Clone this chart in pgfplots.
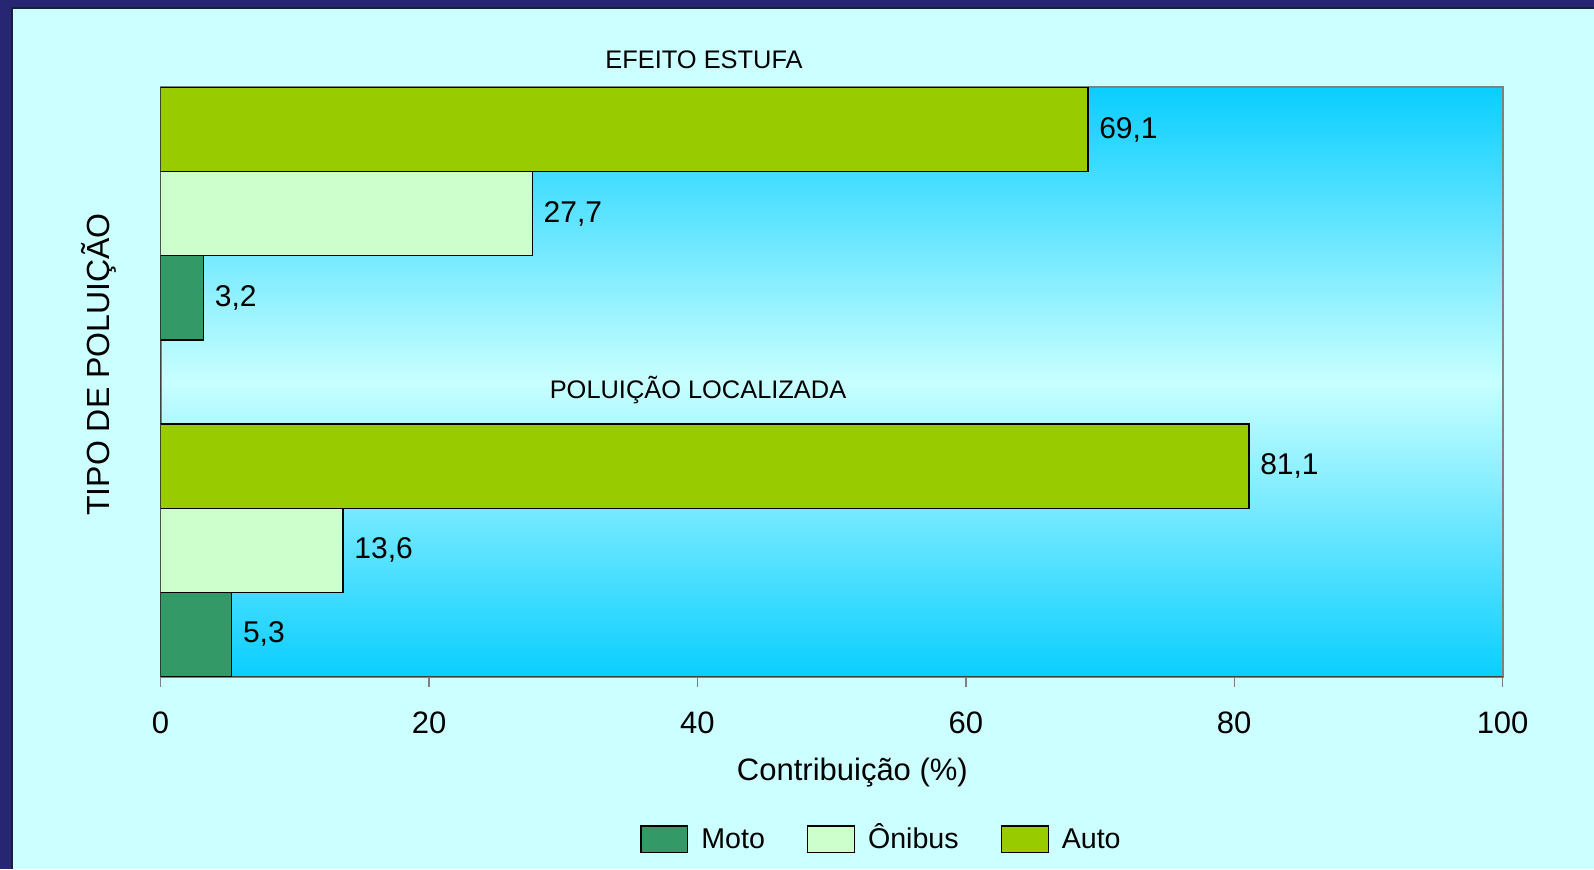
\documentclass[border=0pt]{standalone}
\usepackage{fontspec}
\setmainfont{Liberation Sans}
\usepackage{pgfplots}
\pgfplotsset{compat=1.18}
\definecolor{navy}{HTML}{262673}
\definecolor{navydark}{HTML}{1A1F40}
\definecolor{bgc}{HTML}{CCFFFF}
\definecolor{cyanA}{HTML}{0ACEFF}
\definecolor{lightC}{HTML}{C8FFFF}
\definecolor{autoc}{HTML}{99CC00}
\definecolor{onibusc}{HTML}{CCFFCC}
\definecolor{motoc}{HTML}{339966}
\definecolor{axisdark}{HTML}{404040}
\definecolor{framegray}{HTML}{808080}
\pgfdeclareverticalshading{bgshade}{100bp}{color(0bp)=(cyanA); color(25bp)=(cyanA); color(50bp)=(lightC); color(75bp)=(cyanA); color(100bp)=(cyanA)}

\pgfplotstableread{
val pos
3.2 4.5
5.3 0.5
}\moto
\pgfplotstableread{
val pos
27.7 5.5
13.6 1.5
}\onibus
\pgfplotstableread{
val pos
69.1 6.5
81.1 2.5
}\auto

\begin{document}
\begin{tikzpicture}
\useasboundingbox (0,0) rectangle (797pt,434.5pt);
\fill[bgc] (0,0) rectangle (797pt,434.5pt);
\fill[navy] (0,0) rectangle (5.5pt,434.5pt);
\fill[navy] (0,431pt) rectangle (797pt,434.5pt);
\draw[navydark, line width=0.8pt] (5.9pt,0) -- (5.9pt,430.6pt) -- (797pt,430.6pt);
\begin{axis}[
  at={(80.3pt,96.25pt)}, anchor=south west,
  scale only axis, width=671pt, height=294.55pt,
  xmin=0, xmax=100, ymin=0, ymax=7,
  xbar, bar shift=0pt, bar width=1,
  axis x line*=bottom, axis y line*=left,
  x axis line style={-, draw=axisdark, line width=0.7pt},
  y axis line style={-, draw=axisdark, line width=0.7pt},
  axis background/.style={shading=bgshade, draw=framegray, line width=1pt},
  xtick={0,20,40,60,80,100}, ytick=\empty,
  tick align=outside, major tick length=5pt,
  x tick style={draw=framegray, line width=0.7pt},
  /pgf/number format/assume math mode=true,
  xticklabel style={font=\fontsize{15.5}{18}\selectfont, yshift=-9pt},
  point meta=x,
  nodes near coords={\pgfmathprintnumber[fixed,fixed zerofill,precision=1,use comma]{\pgfplotspointmeta}},
  every node near coord/.append style={anchor=west, xshift=2pt, font=\fontsize{15}{18}\selectfont, text=black},
  legend style={at={(0.5379,-0.276)}, anchor=center, draw=none, fill=none,
    legend columns=3, font=\fontsize{14.3}{17}\selectfont,
    nodes={text height=10.5pt, text depth=1pt},
    /tikz/every even column/.append style={column sep=19pt}},
  mybar/.style={fill=#1, draw=black, line width=0.65pt,
    legend image code/.code={\draw[fill=#1, draw=black, line width=0.65pt] (0pt,-6.6pt) rectangle (23.4pt,6.6pt); \path (27.9pt,0pt);}},
]
\addplot[mybar=motoc] table[x=val, y=pos] {\moto};
\addlegendentry{Moto}
\addplot[mybar=onibusc] table[x=val, y=pos] {\onibus};
\addlegendentry{Ônibus}
\addplot[mybar=autoc] table[x=val, y=pos] {\auto};
\addlegendentry{Auto}
\end{axis}
\node[anchor=base, font=\fontsize{12.7}{15}\selectfont] at (352pt,400.35pt) {EFEITO ESTUFA};
\node[anchor=base, font=\fontsize{12.7}{15}\selectfont] at (349pt,235.5pt) {POLUIÇÃO LOCALIZADA};
\node[anchor=base, font=\fontsize{15.5}{18}\selectfont] at (426.2pt,44.5pt) {Contribuição (\%)};
\node[anchor=base, rotate=90, font=\fontsize{16}{19}\selectfont] at (54.67pt,252.25pt) {TIPO DE POLUIÇÃO};
\end{tikzpicture}
\end{document}
